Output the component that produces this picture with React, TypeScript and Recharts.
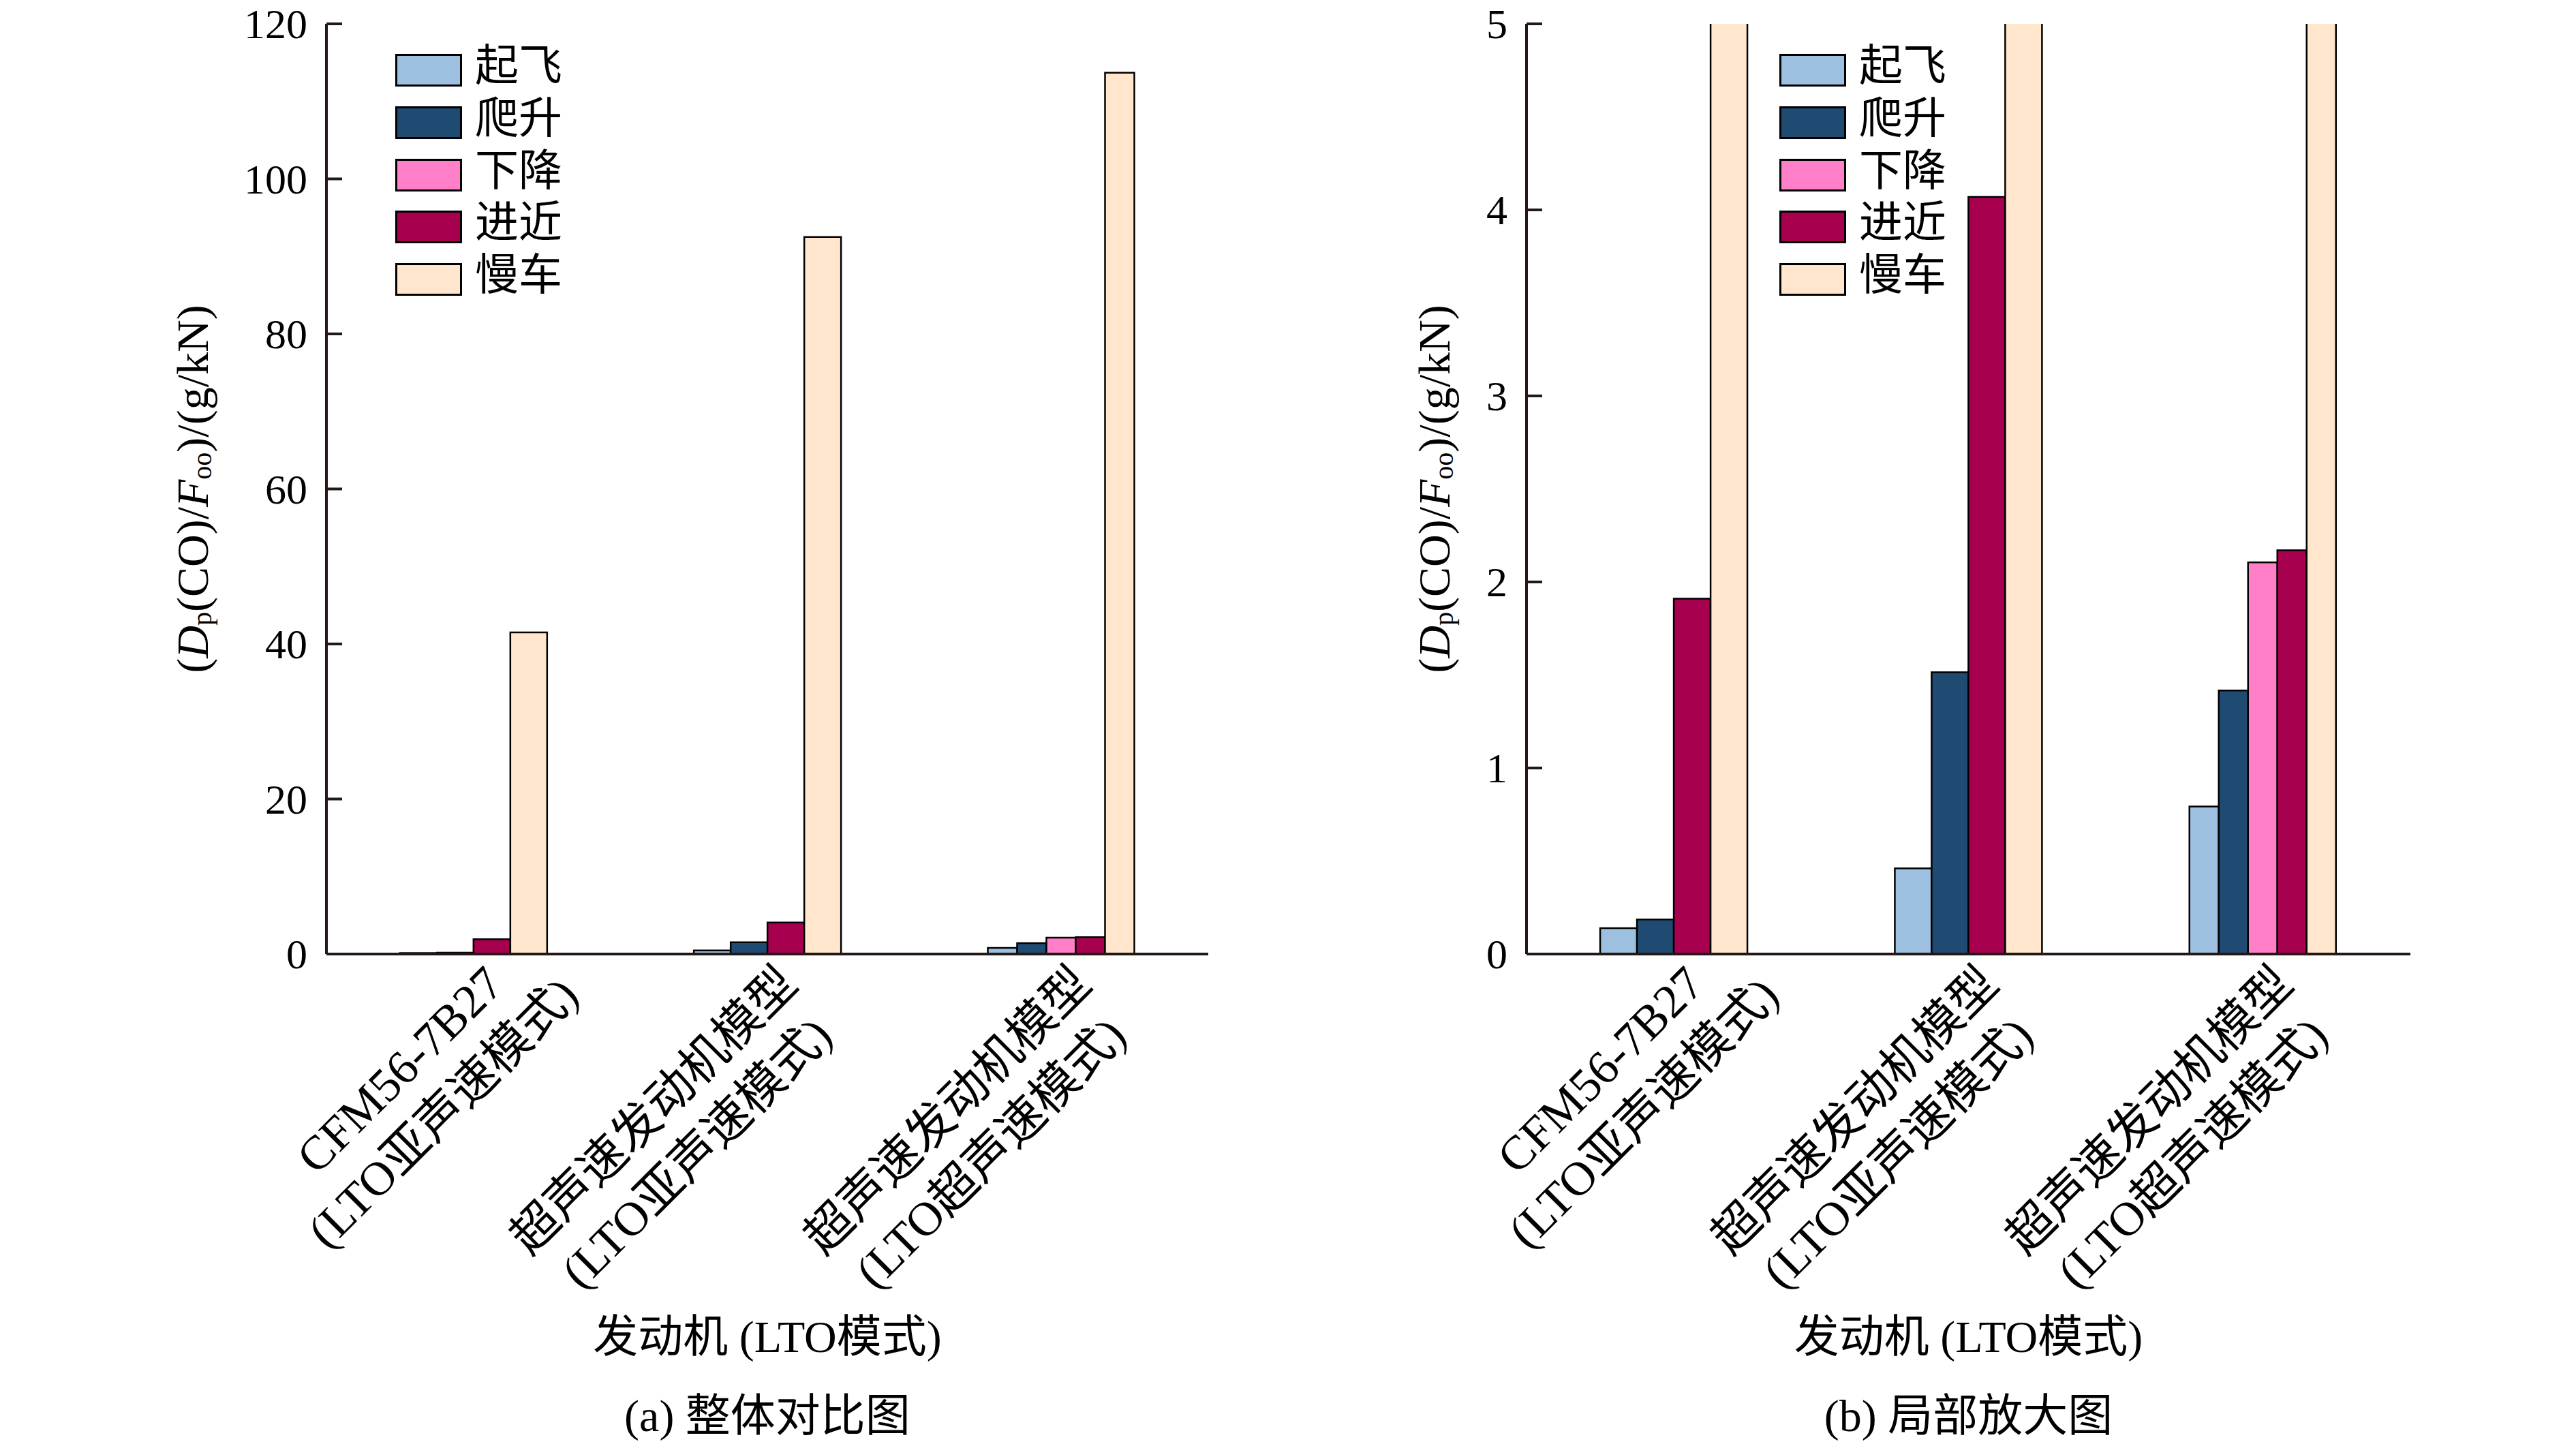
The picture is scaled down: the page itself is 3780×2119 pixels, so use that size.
import React from 'react';
import { BarChart, Bar, XAxis, YAxis, Legend } from 'recharts';

// engines (two-line category labels)
const engineNames = ['CFM56-7B27', '超声速发动机模型', '超声速发动机模型'];
const engineModes = ['(LTO亚声速模式)', '(LTO亚声速模式)', '(LTO超声速模式)'];

// LTO modes
const seriesNames = ['起飞', '爬升', '下降', '进近', '慢车'];
const seriesColors = ['#9DBFE0', '#1F4A72', '#FF80C8', '#A6004F', '#FFE6CC'];

// Dp(CO)/Foo, g/kN
const takeoff = [0.139, 0.461, 0.793];
const climb = [0.186, 1.515, 1.417];
const descent = [null, null, 2.105];
const approach = [1.91, 4.07, 2.17];
const idle = [41.5, 92.5, 113.7];

const fullTicks = [0, 20, 40, 60, 80, 100, 120];
const zoomTicks = [0, 1, 2, 3, 4, 5];

const seriesValues = [takeoff, climb, descent, approach, idle];

// groups without a descent value only have 4 bars, so they go on their own x axis
const data = engineNames.map((name, i) => {
  const group = descent[i] == null ? 'a' : 'b';
  const row: Record<string, any> = { engine: `${name}\n${engineModes[i]}` };
  seriesNames.forEach((s, k) => {
    row[`${group}_${s}`] = seriesValues[k][i];
  });
  return row;
});
const seriesA = seriesNames.filter((s) => data.some((r) => r[`a_${s}`] != null));
const seriesB = seriesNames.filter((s) => data.some((r) => r[`b_${s}`] != null));

const FONT = "'Liberation Serif', 'Noto Sans CJK SC', serif";
const AXIS = '#231815';

let ctx: CanvasRenderingContext2D | null = null;
const textWidth = (s: string, size: number) => {
  if (!ctx) ctx = document.createElement('canvas').getContext('2d');
  if (!ctx) return s.length * size * 0.6;
  ctx.font = `${size}px ${FONT}`;
  return ctx.measureText(s).width;
};

const EngineTick = (props: any) => {
  const { x, y, payload } = props;
  const [l1, l2] = String(payload.value).split('\n');
  const w1 = textWidth(l1, 70);
  return (
    <g transform={`translate(${x},${y}) rotate(-45)`} fontFamily={FONT} fontSize={70} fill="#000">
      <text x={0} y={44} textAnchor="end" dominantBaseline="central">{l1}</text>
      <text x={-w1 / 2} y={133} textAnchor="middle" dominantBaseline="central">{l2}</text>
    </g>
  );
};

const ValueTick = (props: any) => {
  const { x, y, payload } = props;
  return (
    <g>
      <line x1={x + 28} x2={x + 51} y1={y} y2={y} stroke={AXIS} strokeWidth={4} />
      <text x={x} y={y} textAnchor="end" dominantBaseline="central" fontFamily={FONT} fontSize={62} fill="#000">
        {payload.value}
      </text>
    </g>
  );
};

const EndTick = (props: any) => (
  <line x1={props.x} x2={props.x} y1={props.y} y2={props.y - 23} stroke={AXIS} strokeWidth={4} />
);

const XTitle = (props: any) => {
  const { viewBox, caption } = props;
  const cx = viewBox.x + viewBox.width / 2;
  return (
    <g fontFamily={FONT} fill="#000" fontSize={66}>
      <text x={cx} y={viewBox.y + 561} textAnchor="middle" dominantBaseline="central">发动机 (LTO模式)</text>
      <text x={cx} y={viewBox.y + 677} textAnchor="middle" dominantBaseline="central">{caption}</text>
    </g>
  );
};

const YTitle = (props: any) => {
  const { viewBox, gap } = props;
  const cx = viewBox.x + viewBox.width - gap;
  const cy = viewBox.y + viewBox.height / 2;
  return (
    <text x={cx} y={cy} transform={`rotate(-90, ${cx}, ${cy})`} textAnchor="middle" dominantBaseline="central"
      fontFamily={FONT} fontSize={66} fill="#000">
      (<tspan fontStyle="italic">D</tspan>
      <tspan fontSize={40} dy={14}>p</tspan>
      <tspan dy={-14}>(CO)/</tspan>
      <tspan fontStyle="italic">F</tspan>
      <tspan fontSize={40} dy={14}>oo</tspan>
      <tspan dy={-14}>)/(g/kN)</tspan>
    </text>
  );
};

const LegendBox = (props: any) => {
  const payload: any[] = props.payload || [];
  return (
    <div style={{ fontFamily: FONT, fontSize: 64, color: '#000' }}>
      {seriesNames.map((n, k) => {
        const entry = payload.find((p) => p.value === n);
        return (
          <div key={n} style={{ display: 'flex', alignItems: 'center', height: 76.8 }}>
            <span style={{ width: 98, height: 48, boxSizing: 'border-box', border: '3px solid #000',
              background: entry?.color ?? seriesColors[k], marginRight: 19 }} />
            <span style={{ lineHeight: 1, position: 'relative', top: -6 }}>{n}</span>
          </div>
        );
      })}
    </div>
  );
};

interface PanelProps {
  left: number;
  yMax: number;
  ticks: number[];
  axisWidth: number;
  rightMargin: number;
  legendLeft: number;
  labelGap: number;
  caption: string;
}

const Panel: React.FC<PanelProps> = ({ left, yMax, ticks, axisWidth, rightMargin, legendLeft, labelGap, caption }) => (
  <div style={{ position: 'absolute', left, top: 0 }}>
    <BarChart width={1890} height={2119} data={data} margin={{ top: 35, right: rightMargin, left: 0, bottom: 19 }}
      barCategoryGap="25%" barGap={0}>
      <XAxis xAxisId="a" dataKey="engine" height={700} interval={0} tick={<EngineTick />} tickSize={0} tickMargin={0}
        tickLine={false} axisLine={{ stroke: AXIS, strokeWidth: 4 }} label={<XTitle caption={caption} />} />
      <XAxis xAxisId="b" dataKey="engine" hide />
      <YAxis yAxisId="v" width={axisWidth} domain={[0, yMax]} ticks={ticks} allowDataOverflow interval={0}
        tick={<ValueTick />} tickSize={0} tickMargin={28} tickLine={false}
        axisLine={{ stroke: AXIS, strokeWidth: 4 }} label={<YTitle gap={labelGap} />} />
      <YAxis yAxisId="end" orientation="right" width={10} domain={[0, yMax]} ticks={[0]} tick={<EndTick />}
        tickSize={0} tickMargin={0} tickLine={false} axisLine={false} />
      <Legend layout="vertical" align="center" verticalAlign="middle" content={<LegendBox />}
        wrapperStyle={{ left: legendLeft, top: 64.6, width: 'auto', height: 'auto' }} />
      {seriesA.map((s) => (
        <Bar key={`a_${s}`} xAxisId="a" yAxisId="v" dataKey={`a_${s}`} name={s} legendType="none"
          fill={seriesColors[seriesNames.indexOf(s)]} stroke="#000" strokeWidth={2.5} isAnimationActive={false} />
      ))}
      {seriesB.map((s) => (
        <Bar key={`b_${s}`} xAxisId="b" yAxisId="v" dataKey={`b_${s}`} name={s}
          fill={seriesColors[seriesNames.indexOf(s)]} stroke="#000" strokeWidth={2.5} isAnimationActive={false} />
      ))}
    </BarChart>
  </div>
);

export default function App() {
  return (
    <div style={{ position: 'absolute', left: 0, top: 0, width: 3780, height: 2119, background: '#fff', overflow: 'hidden' }}>
      <Panel left={0} yMax={120} ticks={fullTicks} axisWidth={479} rightMargin={107} legendLeft={580}
        labelGap={197} caption="(a) 整体对比图" />
      <Panel left={1890} yMax={5} ticks={zoomTicks} axisWidth={350} rightMargin={233} legendLeft={721}
        labelGap={136} caption="(b) 局部放大图" />
    </div>
  );
}
